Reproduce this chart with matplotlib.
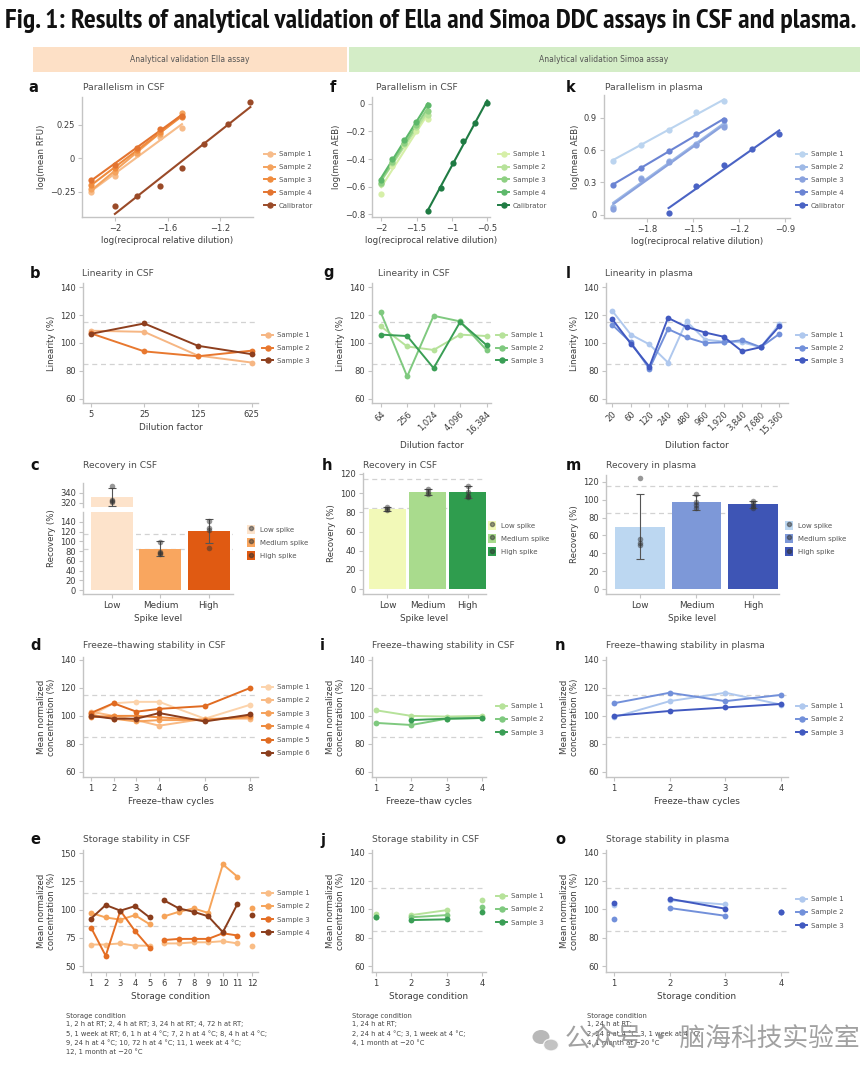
import numpy as np
import matplotlib
matplotlib.use('Agg')
import matplotlib.pyplot as plt
from matplotlib.lines import Line2D
from matplotlib.patches import Patch, Rectangle, Ellipse
from matplotlib.ticker import FuncFormatter
from matplotlib import font_manager
from matplotlib.font_manager import FontProperties

plt.rcParams['font.family'] = ['DejaVu Sans']
W, H, DPI = 865, 1071, 100

# ---------------- data ----------------
sample_labels3 = ['Sample 1', 'Sample 2', 'Sample 3']
sample_labels4 = ['Sample 1', 'Sample 2', 'Sample 3', 'Sample 4']
sample_labels6 = ['Sample 1', 'Sample 2', 'Sample 3', 'Sample 4', 'Sample 5', 'Sample 6']
par_labels = ['Sample 1', 'Sample 2', 'Sample 3', 'Sample 4', 'Calibrator']
spike_levels = ['Low', 'Medium', 'High']
spike_labels = ['Low spike', 'Medium spike', 'High spike']

# a: parallelism CSF (Ella)
a_x_samples = [-2.18, -2.0, -1.83, -1.66, -1.49]
a_s1 = [-0.25, -0.13, 0.03, 0.16, 0.23]
a_s2 = [-0.23, -0.10, 0.04, 0.18, 0.34]
a_s3 = [-0.20, -0.07, 0.06, 0.20, 0.31]
a_s4 = [-0.16, -0.05, 0.08, 0.22, 0.32]
a_x_cal = [-2.0, -1.83, -1.66, -1.49, -1.32, -1.14, -0.97]
a_cal = [-0.355, -0.28, -0.21, -0.075, 0.11, 0.26, 0.425]

# f: parallelism CSF (Simoa)
f_x_samples = [-2.0, -1.84, -1.68, -1.51, -1.34]
f_s1 = [-0.65, -0.45, -0.30, -0.20, -0.11]
f_s2 = [-0.58, -0.43, -0.29, -0.17, -0.08]
f_s3 = [-0.57, -0.42, -0.28, -0.15, -0.05]
f_s4 = [-0.55, -0.40, -0.26, -0.13, -0.01]
f_x_cal = [-1.34, -1.16, -0.99, -0.84, -0.67, -0.50]
f_cal = [-0.78, -0.61, -0.43, -0.27, -0.14, 0.01]

# k: parallelism plasma (Simoa)
k_x_samples = [-2.02, -1.84, -1.66, -1.48, -1.30]
k_s1 = [0.50, 0.65, 0.79, 0.95, 1.05]
k_s2 = [0.07, 0.34, 0.50, 0.66, 0.83]
k_s3 = [0.05, 0.33, 0.49, 0.65, 0.81]
k_s4 = [0.28, 0.43, 0.59, 0.75, 0.88]
k_x_cal = [-1.66, -1.48, -1.30, -1.12, -0.94]
k_cal = [0.02, 0.27, 0.46, 0.61, 0.75]

# b: linearity CSF (Ella)
b_dilution = ['5', '25', '125', '625']
b_s1 = [108.8, 108.0, 91.0, 86.0]
b_s2 = [107.0, 94.0, 90.5, 94.5]
b_s3 = [106.5, 114.0, 98.0, 92.0]

# g: linearity CSF (Simoa)
g_dilution = ['64', '256', '1,024', '4,096', '16,384']
g_s1 = [112.0, 97.5, 95.0, 106.0, 105.0]
g_s2 = [122.0, 76.0, 119.5, 115.5, 95.0]
g_s3 = [106.0, 105.0, 82.0, 115.0, 98.5]

# l: linearity plasma (Simoa)
l_dilution = ['20', '60', '120', '240', '480', '960', '1,920', '3,840', '7,680', '15,360']
l_s1 = [123.0, 106.0, 99.0, 86.0, 115.5, 102.5, 101.0, 100.5, 97.0, 113.5]
l_s2 = [113.0, 100.5, 81.5, 110.0, 104.0, 100.0, 100.5, 102.0, 97.0, 106.5]
l_s3 = [117.0, 99.5, 83.0, 118.0, 111.5, 107.5, 104.5, 94.0, 97.0, 112.0]

# c: recovery CSF (Ella)
c_mean = [332, 85, 121]
c_err = [18, 15, 25]
c_pts_low = [355, 327, 324, 322]
c_pts_med = [99, 79, 76, 74]
c_pts_high = [142, 128, 124, 86]

# h: recovery CSF (Simoa)
h_mean = [83.5, 101, 101]
h_err = [2.5, 3, 6]
h_pts_low = [86, 83, 82]
h_pts_med = [104, 101, 99]
h_pts_high = [107, 101, 97, 96]

# m: recovery plasma (Simoa)
m_mean = [70, 97, 95]
m_err = [36, 8, 4]
m_pts_low = [124, 56, 52, 49]
m_pts_med = [106, 98, 94, 91]
m_pts_high = [99, 96, 93, 91]

# d: freeze-thaw CSF (Ella)
d_cycles = [1, 2, 3, 4, 6, 8]
d_s1 = [100, 109, 110, 110, 98, 108]
d_s2 = [103, 100, 97, 93, 98, 98]
d_s3 = [101, 98, 96, 97, 97, 99]
d_s4 = [99, 100, 100, 99, 97, 100]
d_s5 = [102, 109, 103, 105, 107, 120]
d_s6 = [100, 98, 98, 102, 96, 101]

# i: freeze-thaw CSF (Simoa)
i_cycles = [1, 2, 3, 4]
i_s1 = [104, 100, 99.5, 100]
i_s2 = [95, 93.5, 98, 98.5]
i_s3 = [np.nan, 97, 98, 98.5]

# n: freeze-thaw plasma (Simoa)
n_cycles = [1, 2, 3, 4]
n_s1 = [99, 110.5, 116.5, 108]
n_s2 = [109, 116.5, 110.5, 115]
n_s3 = [100, 103.5, 106, 108.5]

# e: storage CSF (Ella); conditions 1-12, lines within groups
e_cond = list(range(1, 13))
e_groups = [[1, 2, 3, 4, 5], [6, 7, 8, 9, 10, 11], [12]]
e_s1 = [69, 69, 70, 68, 68, 70, 70, 71, 71, 72, 70, 68]
e_s2 = [97, 93, 91, 95, 87, 94, 98, 101, 97, 140, 129, 101]
e_s3 = [84, 59, 99, 81, 66, 73, 74, 74, 74, 79, 77, 78]
e_s4 = [92, 104, 99, 103, 93, 108, 101, 98, 94, 80, 105, 95]

# j: storage CSF (Simoa)
j_cond = [1, 2, 3, 4]
j_groups = [[1], [2, 3], [4]]
j_s1 = [97, 96, 99.5, 107]
j_s2 = [95, 94.5, 96, 102]
j_s3 = [94.5, 92.5, 93, 98]

# o: storage plasma (Simoa)
o_cond = [1, 2, 3, 4]
o_groups = [[1], [2, 3], [4]]
o_s1 = [103, 106.5, 103.5, 98]
o_s2 = [93, 101, 95.5, 98]
o_s3 = [104.5, 107.5, 100.5, 98.5]

# ---------------- colours ----------------
ella_par = ['#F7BC8A', '#F4A35E', '#F08C3E', '#E37430', '#9A4A28']
ella_lin = ['#F6B683', '#E8782F', '#8E3F1E']
ella_rec = ['#FDE3CB', '#F9A65F', '#E05A12']
ella_ft = ['#FCD3AB', '#F9BA84', '#F5A15A', '#EE8A3D', '#E06B21', '#8A3D1C']
ella_st = ['#F9BD86', '#F6A45A', '#E46E24', '#8A3D1C']
csf_par = ['#D6EFA8', '#B7E29A', '#8ED083', '#5DB86A', '#1F7B43']
csf_lin = ['#B6E29A', '#7FC97F', '#3A9E55']
csf_rec = ['#F2F9B8', '#A9DB8D', '#2F9D4E']
pl_par = ['#BBD4EF', '#9EB9E6', '#8AA2DE', '#6B84D3', '#4A63C4']
pl_lin = ['#AFC8EE', '#7290DA', '#4159C0']
pl_rec = ['#BCD7F1', '#7D98D8', '#3E55B5']

SPINE = '#C4C4C4'
TXT = '#3C3C3C'
REF = '#D2D2D2'

fig = plt.figure(figsize=(W / DPI, H / DPI), dpi=DPI)
fig.patch.set_facecolor('white')


def add_ax(l, t, r, b):
    return fig.add_axes([l / W, 1 - b / H, (r - l) / W, (b - t) / H])


def style(ax, bottom=True):
    for s in ['top', 'right']:
        ax.spines[s].set_visible(False)
    for s in ['left', 'bottom']:
        ax.spines[s].set_color(SPINE)
        ax.spines[s].set_linewidth(1.0)
    ax.tick_params(labelsize=6, labelcolor=TXT, color=SPINE, length=3, width=0.8, pad=2)
    if not bottom:
        ax.spines['bottom'].set_visible(False)
        ax.tick_params(axis='x', bottom=False, labelbottom=False)
    ax.set_facecolor('none')


def refl(ax):
    for v in (115, 85):
        ax.axhline(v, ls=(0, (4, 3)), color=REF, lw=0.9, zorder=0)


def fig_text(x, y, s, **kw):
    return fig.text(x / W, 1 - y / H, s, **kw)


def label(letter, lx, tx, y, title):
    fig_text(lx, y, letter, fontsize=10.5, fontweight='bold', va='center', ha='left', color='#111')
    fig_text(tx, y, title, fontsize=6.6, va='center', ha='left', color='#4a4a4a')


def line_legend(ax, colors, labels, x, y, spacing=1.0):
    hs = [Line2D([], [], color=c, marker='o', ms=3.6, lw=1.4) for c in colors]
    ax.legend(hs, labels, loc='upper left', bbox_to_anchor=(x / W, 1 - y / H),
              bbox_transform=fig.transFigure, frameon=False, fontsize=5,
              handlelength=1.6, handletextpad=0.5, labelspacing=spacing,
              borderpad=0, borderaxespad=0, labelcolor='#555')


def bar_legend(ax, colors, x, y):
    hs = [(Patch(facecolor=c, edgecolor='none'),
           Line2D([], [], ls='none', marker='o', ms=3, color='#333', alpha=0.5)) for c in colors]
    ax.legend(hs, spike_labels, loc='upper left', bbox_to_anchor=(x / W, 1 - y / H),
              bbox_transform=fig.transFigure, frameon=False, fontsize=5,
              handlelength=1.2, handleheight=1.6, handletextpad=0.6, labelspacing=0.6,
              borderpad=0, borderaxespad=0, labelcolor='#555')


gfmt = FuncFormatter(lambda v, p: ('%g' % round(v, 3)).replace('-', '\u2212'))


def par_panel(ax, xs, ys_list, xc, yc, colors):
    for ys, c in zip(ys_list, colors[:-1]):
        sl, ic = np.polyfit(xs, ys, 1)
        xx = np.array([min(xs), max(xs)])
        ax.plot(xx, sl * xx + ic, color=c, lw=1.5, zorder=2)
        ax.plot(xs, ys, 'o', color=c, ms=4.5, mec='none', zorder=3)
    sl, ic = np.polyfit(xc, yc, 1)
    xx = np.array([min(xc), max(xc)])
    ax.plot(xx, sl * xx + ic, color=colors[-1], lw=1.5, zorder=2)
    ax.plot(xc, yc, 'o', color=colors[-1], ms=4.5, mec='none', zorder=3)
    ax.xaxis.set_major_formatter(gfmt)
    ax.yaxis.set_major_formatter(gfmt)
    ax.set_xlabel('log(reciprocal relative dilution)', fontsize=6.2, color=TXT, labelpad=2)


def series(ax, x, ys_list, colors, groups=None):
    x = np.asarray(x, dtype=float)
    for ys, c in zip(ys_list, colors):
        ys = np.asarray(ys, dtype=float)
        if groups is None:
            ax.plot(x, ys, '-o', color=c, ms=4.2, lw=1.4, mec='none', zorder=3)
        else:
            for g in groups:
                idx = [list(x).index(v) for v in g]
                ax.plot(x[idx], ys[idx], '-o', color=c, ms=4.2, lw=1.4, mec='none', zorder=3)


def bars(ax, means, errs, pts_list, colors, width):
    xs = np.arange(len(means))
    ax.bar(xs, means, width=width, color=colors, zorder=1)
    ax.errorbar(xs, means, yerr=errs, fmt='none', ecolor='#555', elinewidth=0.8,
                capsize=3, capthick=0.8, zorder=3)
    for xi, pts in zip(xs, pts_list):
        ax.plot([xi] * len(pts), pts, 'o', color='#333', alpha=0.5, ms=4, mec='none', zorder=4)


def ylab(ax, s, pad=3):
    ax.set_ylabel(s, fontsize=6.2, color=TXT, labelpad=pad)


def xlab(ax, s, pad=3):
    ax.set_xlabel(s, fontsize=6.4, color=TXT, labelpad=pad)


# ---------------- title & header ----------------
def pick_condensed_bold():
    best = None
    for f in font_manager.fontManager.ttflist:
        nm = (f.name + ' ' + str(f.stretch) + ' ' + f.fname).lower()
        if ('narrow' in nm or 'condensed' in nm) and (f.weight in ('bold', 700) or 'bold' in f.fname.lower()):
            if 'oblique' in f.fname.lower() or 'italic' in f.fname.lower():
                continue
            best = f.fname
            if 'narrow' in nm:
                break
    return best


cf = pick_condensed_bold()
title_str = 'Fig. 1: Results of analytical validation of Ella and Simoa DDC assays in CSF and plasma.'
if cf:
    tprops = dict(fontproperties=FontProperties(fname=cf, size=14))
else:
    tprops = dict(fontsize=14, fontweight='bold')
ttl = fig_text(5, 21, title_str, va='center', ha='left', color='#111', **tprops)
fig.canvas.draw()
bb = ttl.get_window_extent()
ttl.set_fontsize(14 * 855 / bb.width)

fig.patches.append(Rectangle((33 / W, 1 - 72 / H), (347 - 33) / W, 25 / H, transform=fig.transFigure,
                             facecolor='#FDE0C6', edgecolor='none', zorder=0))
fig.patches.append(Rectangle((349 / W, 1 - 72 / H), (860 - 349) / W, 25 / H, transform=fig.transFigure,
                             facecolor='#D4EDC7', edgecolor='none', zorder=0))
fig_text(190, 60, 'Analytical validation Ella assay', fontsize=5.5, ha='center', va='center', color='#555')
fig_text(604, 60, 'Analytical validation Simoa assay', fontsize=5.5, ha='center', va='center', color='#555')

# ---------------- row 1: parallelism ----------------
ax = add_ax(82, 97, 253, 217)
style(ax)
par_panel(ax, a_x_samples, [a_s1, a_s2, a_s3, a_s4], a_x_cal, a_cal, ella_par)
ax.set_xlim(-2.25, -0.95); ax.set_ylim(-0.44, 0.46)
ax.set_xticks([-2.0, -1.6, -1.2]); ax.set_yticks([-0.25, 0, 0.25])
ylab(ax, 'log(mean RFU)')
line_legend(ax, ella_par, par_labels, 264, 151)
label('a', 28, 83, 88, 'Parallelism in CSF')

ax = add_ax(372, 97, 490, 217)
style(ax)
par_panel(ax, f_x_samples, [f_s1, f_s2, f_s3, f_s4], f_x_cal, f_cal, csf_par)
ax.set_xlim(-2.13, -0.46); ax.set_ylim(-0.82, 0.05)
ax.set_xticks([-2.0, -1.5, -1.0, -0.5]); ax.set_yticks([-0.8, -0.6, -0.4, -0.2, 0])
ylab(ax, 'log(mean AEB)')
line_legend(ax, csf_par, par_labels, 498, 151)
label('f', 330, 376, 88, 'Parallelism in CSF')

ax = add_ax(604, 95, 790, 218)
style(ax)
par_panel(ax, k_x_samples, [k_s1, k_s2, k_s3, k_s4], k_x_cal, k_cal, pl_par)
ax.set_xlim(-2.08, -0.87); ax.set_ylim(-0.03, 1.11)
ax.set_xticks([-1.8, -1.5, -1.2, -0.9]); ax.set_yticks([0, 0.3, 0.6, 0.9])
ylab(ax, 'log(mean AEB)')
line_legend(ax, pl_par, par_labels, 796, 151)
label('k', 566, 605, 88, 'Parallelism in plasma')

# ---------------- row 2: linearity ----------------
ax = add_ax(83, 283, 258, 403)
style(ax); refl(ax)
series(ax, range(len(b_dilution)), [b_s1, b_s2, b_s3], ella_lin)
ax.set_xticks(range(len(b_dilution))); ax.set_xticklabels(b_dilution)
ax.set_xlim(-0.14, 3.12); ax.set_ylim(57, 143); ax.set_yticks([60, 80, 100, 120, 140])
ylab(ax, 'Linearity (%)'); xlab(ax, 'Dilution factor')
line_legend(ax, ella_lin, sample_labels3, 262, 332)
label('b', 30, 82, 273, 'Linearity in CSF')

ax = add_ax(372, 283, 491, 403)
style(ax); refl(ax)
series(ax, range(len(g_dilution)), [g_s1, g_s2, g_s3], csf_lin)
ax.set_xticks(range(len(g_dilution)))
ax.set_xticklabels(g_dilution, rotation=45, ha='right', rotation_mode='anchor')
ax.set_xlim(-0.33, 4.17); ax.set_ylim(57, 143); ax.set_yticks([60, 80, 100, 120, 140])
ylab(ax, 'Linearity (%)'); xlab(ax, 'Dilution factor')
line_legend(ax, csf_lin, sample_labels3, 496, 332)
label('g', 323, 378, 273, 'Linearity in CSF')

ax = add_ax(606, 283, 788, 403)
style(ax); refl(ax)
series(ax, range(len(l_dilution)), [l_s1, l_s2, l_s3], pl_lin)
ax.set_xticks(range(len(l_dilution)))
ax.set_xticklabels(l_dilution, rotation=45, ha='right', rotation_mode='anchor')
ax.set_xlim(-0.34, 9.47); ax.set_ylim(57, 143); ax.set_yticks([60, 80, 100, 120, 140])
ylab(ax, 'Linearity (%)'); xlab(ax, 'Dilution factor')
line_legend(ax, pl_lin, sample_labels3, 796, 332)
label('l', 566, 605, 273, 'Linearity in plasma')

# ---------------- row 3: recovery ----------------
axu = add_ax(83, 483, 233, 507)
axl = add_ax(83, 512, 233, 594)
style(axu, bottom=False); style(axl)
for axx in (axu, axl):
    bars(axx, c_mean, c_err, [c_pts_low, c_pts_med, c_pts_high], ella_rec, 0.87)
    axx.set_xlim(-0.6, 2.5)
refl(axl)
axu.set_ylim(312, 360); axu.set_yticks([320, 340])
axl.set_ylim(-8, 160); axl.set_yticks(range(0, 141, 20))
axl.set_xticks(range(3)); axl.set_xticklabels(spike_levels)
axl.tick_params(axis='x', labelsize=6.4)
xlab(axl, 'Spike level')
fig_text(52, 538, 'Recovery (%)', fontsize=6.2, color=TXT, rotation=90, ha='center', va='center')
bar_legend(axl, ella_rec, 247, 525)
label('c', 30, 83, 465, 'Recovery in CSF')

ax = add_ax(363, 473, 486, 594)
style(ax); refl(ax)
bars(ax, h_mean, h_err, [h_pts_low, h_pts_med, h_pts_high], csf_rec, 0.92)
ax.set_xlim(-0.61, 2.46); ax.set_ylim(-5, 121); ax.set_yticks(range(0, 121, 20))
ax.set_xticks(range(3)); ax.set_xticklabels(spike_levels)
ax.tick_params(axis='x', labelsize=6.4)
ylab(ax, 'Recovery (%)'); xlab(ax, 'Spike level')
bar_legend(ax, csf_rec, 488, 521)
label('h', 322, 363, 465, 'Recovery in CSF')

ax = add_ax(606, 475, 779, 594)
style(ax); refl(ax)
bars(ax, m_mean, m_err, [m_pts_low, m_pts_med, m_pts_high], pl_rec, 0.88)
ax.set_xlim(-0.6, 2.46); ax.set_ylim(-5.6, 127.8); ax.set_yticks(range(0, 121, 20))
ax.set_xticks(range(3)); ax.set_xticklabels(spike_levels)
ax.tick_params(axis='x', labelsize=6.4)
ylab(ax, 'Recovery (%)'); xlab(ax, 'Spike level')
bar_legend(ax, pl_rec, 785, 521)
label('m', 566, 606, 465, 'Recovery in plasma')

# ---------------- row 4: freeze-thaw ----------------
MN = 'Mean normalized\nconcentration (%)'
ax = add_ax(83, 657, 258, 777)
style(ax); refl(ax)
series(ax, d_cycles, [d_s1, d_s2, d_s3, d_s4, d_s5, d_s6], ella_ft)
ax.set_xticks(d_cycles); ax.set_xlim(0.66, 8.33)
ax.set_ylim(56.4, 142); ax.set_yticks([60, 80, 100, 120, 140])
ylab(ax, MN); xlab(ax, 'Freeze\u2013thaw cycles')
line_legend(ax, ella_ft, sample_labels6, 262, 684, spacing=1.05)
label('d', 30, 83, 645, 'Freeze\u2013thawing stability in CSF')

ax = add_ax(372, 657, 486, 777)
style(ax); refl(ax)
series(ax, i_cycles, [i_s1, i_s2, i_s3], csf_lin)
ax.set_xticks(i_cycles); ax.set_xlim(0.89, 4.11)
ax.set_ylim(56.4, 142); ax.set_yticks([60, 80, 100, 120, 140])
ylab(ax, MN); xlab(ax, 'Freeze\u2013thaw cycles')
line_legend(ax, csf_lin, sample_labels3, 496, 703, spacing=1.05)
label('i', 320, 372, 645, 'Freeze\u2013thawing stability in CSF')

ax = add_ax(606, 657, 788, 777)
style(ax); refl(ax)
series(ax, n_cycles, [n_s1, n_s2, n_s3], pl_lin)
ax.set_xticks(n_cycles); ax.set_xlim(0.86, 4.12)
ax.set_ylim(56.4, 142); ax.set_yticks([60, 80, 100, 120, 140])
ylab(ax, MN); xlab(ax, 'Freeze\u2013thaw cycles')
line_legend(ax, pl_lin, sample_labels3, 796, 703, spacing=1.05)
label('n', 555, 606, 645, 'Freeze\u2013thawing stability in plasma')

# ---------------- row 5: storage ----------------
ax = add_ax(83, 850, 258, 972)
style(ax); refl(ax)
series(ax, e_cond, [e_s1, e_s2, e_s3, e_s4], ella_st, groups=e_groups)
ax.set_xticks(e_cond); ax.set_xlim(0.45, 12.4)
ax.set_ylim(44.7, 152.7); ax.set_yticks([50, 75, 100, 125, 150])
ylab(ax, MN); xlab(ax, 'Storage condition')
line_legend(ax, ella_st, sample_labels4, 262, 890, spacing=1.05)
label('e', 30, 83, 840, 'Storage stability in CSF')

ax = add_ax(372, 850, 486, 972)
style(ax); refl(ax)
series(ax, j_cond, [j_s1, j_s2, j_s3], csf_lin, groups=j_groups)
ax.set_xticks(j_cond); ax.set_xlim(0.89, 4.11)
ax.set_ylim(55.8, 142); ax.set_yticks([60, 80, 100, 120, 140])
ylab(ax, MN); xlab(ax, 'Storage condition')
line_legend(ax, csf_lin, sample_labels3, 496, 893, spacing=1.05)
label('j', 320, 372, 840, 'Storage stability in CSF')

ax = add_ax(606, 850, 788, 972)
style(ax); refl(ax)
series(ax, o_cond, [o_s1, o_s2, o_s3], pl_lin, groups=o_groups)
ax.set_xticks(o_cond); ax.set_xlim(0.86, 4.12)
ax.set_ylim(55.8, 142); ax.set_yticks([60, 80, 100, 120, 140])
ylab(ax, MN); xlab(ax, 'Storage condition')
line_legend(ax, pl_lin, sample_labels3, 796, 896, spacing=1.05)
label('o', 555, 606, 840, 'Storage stability in plasma')

# ---------------- footnotes ----------------
foot_e = ('Storage condition\n'
          '1, 2 h at RT; 2, 4 h at RT; 3, 24 h at RT; 4, 72 h at RT;\n'
          '5, 1 week at RT; 6, 1 h at 4 \u00b0C; 7, 2 h at 4 \u00b0C; 8, 4 h at 4 \u00b0C;\n'
          '9, 24 h at 4 \u00b0C; 10, 72 h at 4 \u00b0C; 11, 1 week at 4 \u00b0C;\n'
          '12, 1 month at \u221220 \u00b0C')
foot_jo = ('Storage condition\n'
           '1, 24 h at RT;\n'
           '2, 24 h at 4 \u00b0C; 3, 1 week at 4 \u00b0C;\n'
           '4, 1 month at \u221220 \u00b0C')
fig_text(66, 1013, foot_e, fontsize=4.9, va='top', ha='left', color='#444', linespacing=1.45)
fig_text(352, 1013, foot_jo, fontsize=4.9, va='top', ha='left', color='#444', linespacing=1.45)
fig_text(587, 1013, foot_jo, fontsize=4.9, va='top', ha='left', color='#444', linespacing=1.45)

# ---------------- watermark ----------------
fig.patches.append(Ellipse((541 / W, 1 - 1037 / H), 17 / W, 14 / H, transform=fig.transFigure,
                           facecolor='#9a9a9a', edgecolor='none', alpha=0.7))
fig.patches.append(Ellipse((551 / W, 1 - 1045 / H), 15 / W, 12 / H, transform=fig.transFigure,
                           facecolor='#b5b5b5', edgecolor='white', lw=1, alpha=0.8))
fig_text(565, 1040, '公众号 · 脑海科技实验室', fontsize=18.5, va='center', ha='left', color='#8a8a8a',
         alpha=0.8, family=['Noto Sans CJK SC', 'DejaVu Sans'])

fig.savefig('out.png', dpi=DPI, facecolor='white')
